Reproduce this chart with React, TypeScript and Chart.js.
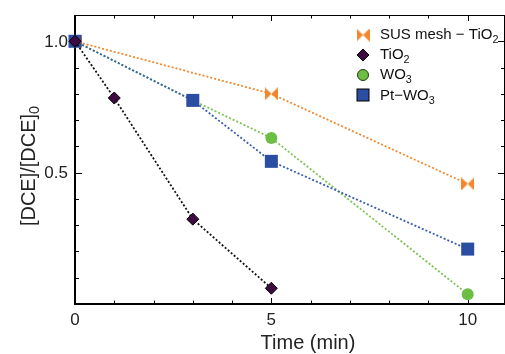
import React, { useEffect, useRef } from "react";
import { Chart, registerables } from "chart.js";
Chart.register(...registerables);

const susTime = [0, 5, 10];
const susValues = [1.0, 0.8, 0.457];
const tio2Time = [0, 1, 3, 5];
const tio2Values = [1.0, 0.784, 0.323, 0.06];
const wo3Time = [0, 3, 5, 10];
const wo3Values = [1.0, 0.775, 0.632, 0.037];
const ptwo3Time = [0, 3, 5, 10];
const ptwo3Values = [1.0, 0.775, 0.543, 0.209];

const seriesLabels = ["SUS mesh \u2212 TiO\u2082", "TiO\u2082", "WO\u2083", "Pt\u2212WO\u2083"];
const xTickLabels = [0, 5, 10];
const yTickLabels = [0.5, 1.0];
const xTitle = "Time (min)";
const yTitle = "[DCE]/[DCE]\u2080";

const FONT = "'Liberation Sans', Arial, sans-serif";
const SUBS: Record<string, string> = { "\u2080": "0", "\u2081": "1", "\u2082": "2", "\u2083": "3" };

function splitRich(text: string) {
  const parts: { t: string; sub: boolean }[] = [];
  for (const ch of text) {
    const sub = ch in SUBS;
    const c = sub ? SUBS[ch] : ch;
    const last = parts[parts.length - 1];
    if (last && last.sub === sub) last.t += c;
    else parts.push({ t: c, sub });
  }
  return parts;
}
function richWidth(ctx: CanvasRenderingContext2D, text: string, size: number) {
  let w = 0;
  for (const p of splitRich(text)) {
    ctx.font = `${p.sub ? size * 0.72 : size}px ${FONT}`;
    w += ctx.measureText(p.t).width;
  }
  return w;
}
function drawRich(ctx: CanvasRenderingContext2D, text: string, x: number, y: number, size: number) {
  ctx.textBaseline = "middle";
  ctx.textAlign = "left";
  let cx = x;
  for (const p of splitRich(text)) {
    ctx.font = `${p.sub ? size * 0.72 : size}px ${FONT}`;
    ctx.fillText(p.t, cx, p.sub ? y + size * 0.32 : y);
    cx += ctx.measureText(p.t).width;
  }
}

function bowtie(color: string) {
  const c = document.createElement("canvas");
  c.width = 13;
  c.height = 13;
  const g = c.getContext("2d")!;
  g.fillStyle = color;
  g.beginPath();
  g.moveTo(0, 0);
  g.lineTo(6.5, 6.5);
  g.lineTo(0, 13);
  g.closePath();
  g.fill();
  g.beginPath();
  g.moveTo(13, 0);
  g.lineTo(6.5, 6.5);
  g.lineTo(13, 13);
  g.closePath();
  g.fill();
  return c;
}

const ORANGE = "#F5852A";
const GREEN = "#6CBE45";
const BLUE = "#2B4EA2";
const PURPLE = "#3D0B3F";

export default function App() {
  const ref = useRef<HTMLCanvasElement>(null);
  useEffect(() => {
    const bt = bowtie(ORANGE);
    const mk = (t: number[], v: number[]) => t.map((x, i) => ({ x, y: v[i] }));
    const frame = {
      id: "frame",
      beforeDatasetsDraw(chart: any) {
        const ctx = chart.ctx as CanvasRenderingContext2D;
        const a = chart.chartArea;
        const xs = chart.scales.x;
        const ys = chart.scales.y;
        ctx.save();
        ctx.strokeStyle = "#000";
        ctx.lineWidth = 1;
        for (let i = 0; i <= 10; i++) {
          const px = Math.round(xs.getPixelForValue(i)) + 0.5;
          const len = i % 5 === 0 ? 6 : 3.5;
          ctx.beginPath();
          ctx.moveTo(px, a.bottom);
          ctx.lineTo(px, a.bottom - len);
          ctx.moveTo(px, a.top);
          ctx.lineTo(px, a.top + len);
          ctx.stroke();
        }
        for (let i = 1; i <= 10; i++) {
          const py = Math.round(ys.getPixelForValue(i / 10)) + 0.5;
          const len = i % 5 === 0 ? 7 : 4;
          ctx.beginPath();
          ctx.moveTo(a.left, py);
          ctx.lineTo(a.left + len, py);
          ctx.moveTo(a.right, py);
          ctx.lineTo(a.right - len, py);
          ctx.stroke();
        }
        ctx.lineWidth = 1;
        ctx.beginPath();
        ctx.moveTo(a.left, a.top + 0.5);
        ctx.lineTo(a.right, a.top + 0.5);
        ctx.moveTo(a.right - 0.5, a.top);
        ctx.lineTo(a.right - 0.5, a.bottom);
        ctx.stroke();
        ctx.lineWidth = 2;
        ctx.beginPath();
        ctx.moveTo(a.left, a.top);
        ctx.lineTo(a.left, a.bottom);
        ctx.lineTo(a.right, a.bottom);
        ctx.stroke();
        ctx.fillStyle = "#222";
        ctx.font = `17px ${FONT}`;
        ctx.textAlign = "center";
        ctx.textBaseline = "top";
        for (const v of xTickLabels) ctx.fillText(String(v), xs.getPixelForValue(v), a.bottom + 8);
        ctx.textAlign = "right";
        ctx.textBaseline = "middle";
        for (const v of yTickLabels) ctx.fillText(v.toFixed(1), a.left - 7, ys.getPixelForValue(v) + 1);
        ctx.font = `20px ${FONT}`;
        ctx.textAlign = "center";
        ctx.textBaseline = "middle";
        ctx.fillText(xTitle, 308, 343);
        ctx.save();
        ctx.translate(29, 166);
        ctx.rotate(-Math.PI / 2);
        const w = richWidth(ctx, yTitle, 20);
        drawRich(ctx, yTitle, -w / 2, 0, 20);
        ctx.restore();
        ctx.restore();
      },
      afterDraw(chart: any) {
        const ctx = chart.ctx as CanvasRenderingContext2D;
        ctx.save();
        const mx = 363;
        const rows = [35, 55, 75, 96];
        ctx.drawImage(bt, mx - 6.5, rows[0] - 6.5);
        ctx.fillStyle = PURPLE;
        ctx.strokeStyle = "#000";
        ctx.lineWidth = 1;
        ctx.beginPath();
        ctx.moveTo(mx, rows[1] - 6);
        ctx.lineTo(mx + 6, rows[1]);
        ctx.lineTo(mx, rows[1] + 6);
        ctx.lineTo(mx - 6, rows[1]);
        ctx.closePath();
        ctx.fill();
        ctx.stroke();
        ctx.fillStyle = GREEN;
        ctx.beginPath();
        ctx.arc(mx, rows[2], 5.5, 0, Math.PI * 2);
        ctx.fill();
        ctx.strokeStyle = "#1a3a10";
        ctx.stroke();
        ctx.fillStyle = BLUE;
        ctx.fillRect(mx - 6, rows[3] - 7, 12, 12);
        ctx.strokeStyle = "#000";
        ctx.strokeRect(mx - 6, rows[3] - 7, 12, 12);
        ctx.fillStyle = "#111";
        seriesLabels.forEach((l, i) => drawRich(ctx, l, 380, rows[i], 15));
        ctx.restore();
      },
    };
    const chart = new Chart(ref.current!, {
      type: "line",
      data: {
        datasets: [
          {
            label: seriesLabels[0],
            data: mk(susTime, susValues),
            borderColor: "#F08A30",
            borderDash: [2, 2],
            borderWidth: 1.8,
            pointStyle: bt as any,
            pointRadius: 6.5,
            order: 3,
            clip: false as any,
          },
          {
            label: seriesLabels[1],
            data: mk(tio2Time, tio2Values),
            borderColor: "#111",
            borderDash: [2, 2],
            borderWidth: 1.8,
            pointStyle: "rectRot",
            pointRadius: 6,
            pointBackgroundColor: PURPLE,
            pointBorderColor: "#000",
            pointBorderWidth: 1,
            order: 0,
            clip: false as any,
          },
          {
            label: seriesLabels[2],
            data: mk(wo3Time, wo3Values),
            borderColor: "#7DC353",
            borderDash: [2, 2],
            borderWidth: 1.8,
            pointStyle: "circle",
            pointRadius: 6,
            pointBackgroundColor: GREEN,
            pointBorderColor: GREEN,
            pointBorderWidth: 0,
            order: 2,
            clip: false as any,
          },
          {
            label: seriesLabels[3],
            data: mk(ptwo3Time, ptwo3Values),
            borderColor: "#3A5DAE",
            borderDash: [2, 2],
            borderWidth: 1.8,
            pointStyle: "rect",
            pointRadius: 9.2,
            pointBackgroundColor: BLUE,
            pointBorderColor: BLUE,
            pointBorderWidth: 0,
            order: 1,
            clip: false as any,
          },
        ],
      },
      options: {
        animation: false,
        responsive: false,
        maintainAspectRatio: false,
        layout: { padding: { left: 75, top: 15, right: 12, bottom: 50 } },
        plugins: { legend: { display: false }, tooltip: { enabled: false } },
        elements: { line: { tension: 0, fill: false } },
        scales: {
          x: { type: "linear", min: 0, max: 10.95, display: false },
          y: { type: "linear", min: 0, max: 1.1, display: false },
        },
      },
      plugins: [frame],
    });
    return () => chart.destroy();
  }, []);
  return (
    <div style={{ position: "fixed", left: 0, top: 0, width: 505, height: 354, overflow: "hidden", background: "#fff" }}>
      <canvas ref={ref} width={517} height={354} style={{ display: "block", width: 517, height: 354 }} />
    </div>
  );
}
